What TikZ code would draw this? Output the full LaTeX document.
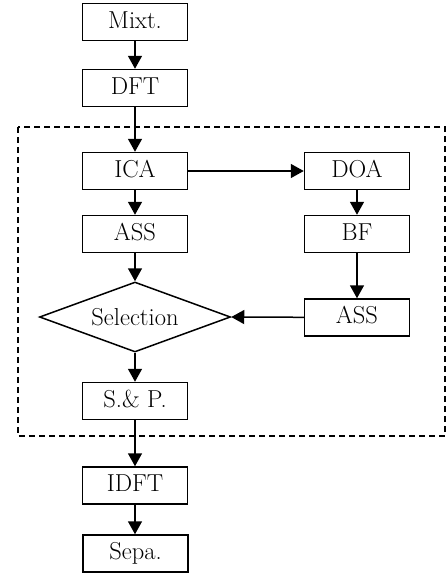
\documentclass[tikz,border=0pt]{standalone}
\usetikzlibrary{shapes.geometric,arrows.meta}
\begin{document}
\begin{tikzpicture}[x=1pt,y=-1pt,
  every node/.style={font=\fontsize{24.5}{28}\selectfont},
  blk/.style={draw,line width=1.5pt,rectangle,minimum width=105pt,minimum height=37pt,inner sep=0pt,text height=16pt,text depth=4pt},
  dec/.style={draw,line width=1.5pt,shape=diamond,shape aspect=2.73,minimum width=191pt,minimum height=70pt,inner sep=1pt},
  arr/.style={line width=1.5pt,-{Triangle[length=13pt,width=14pt]}},
  grp/.style={line width=1.2pt,dash pattern=on 6pt off 4pt}]
\useasboundingbox (0,0) rectangle (446,576);
\draw[grp] (18,127) rectangle (445,436);
\node[blk] (mixt) at (135,22) {Mixt.};
\node[blk] (dft) at (135,88) {DFT};
\node[blk] (ica) at (135,171) {ICA};
\node[blk] (doa) at (357,171) {DOA};
\node[blk] (ass1) at (135,234) {ASS};
\node[blk] (bf) at (357,234) {BF};
\node[dec] (sel) at (135,317) {Selection};
\node[blk] (ass2) at (357,317.5) {ASS};
\node[blk] (sp) at (135,401) {S.\& P.};
\node[blk] (idft) at (135,485.5) {IDFT};
\node[blk] (sepa) at (135.5,553.5) {Sepa.};
\draw[arr] (mixt) -- (dft);
\draw[arr] (dft) -- (ica);
\draw[arr] (ica) -- (doa);
\draw[arr] (ica) -- (ass1);
\draw[arr] (doa) -- (bf);
\draw[arr] (ass1) -- (sel);
\draw[arr] (bf) -- (ass2);
\draw[arr] (ass2) -- (sel.east);
\draw[arr] (sel) -- (sp);
\draw[arr] (sp) -- (idft);
\draw[arr] (idft) -- (idft |- sepa.north);
\end{tikzpicture}
\end{document}
